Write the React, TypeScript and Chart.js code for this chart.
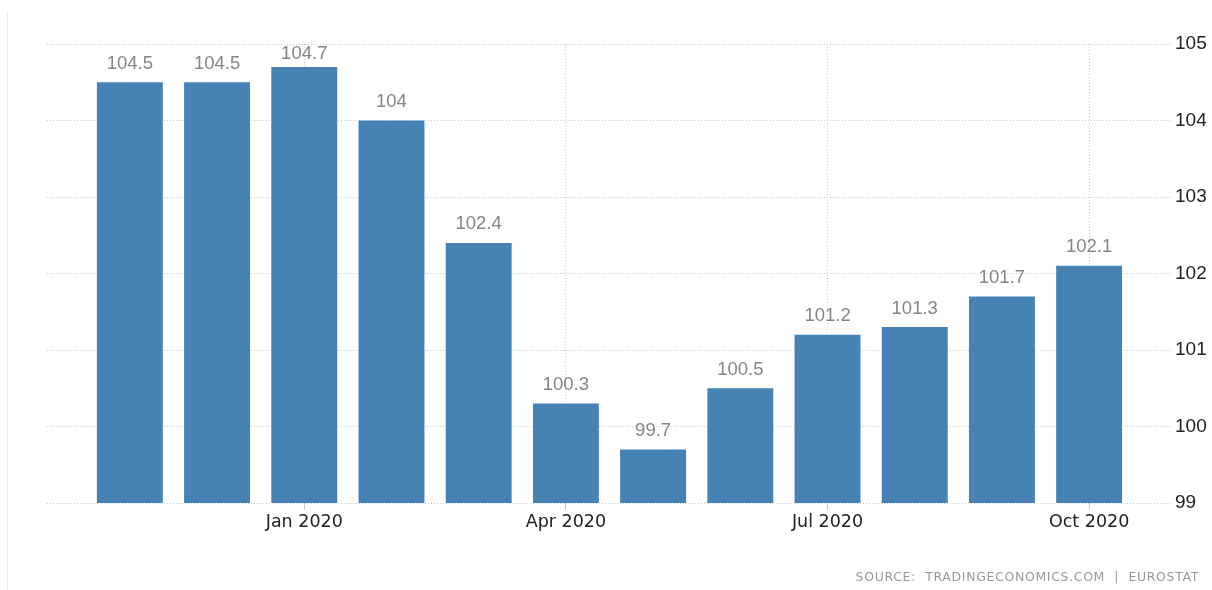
import React, { useEffect, useRef } from "react";
import { Chart, registerables } from "chart.js";

Chart.register(...registerables);

const categories = [
  "Nov 2019", "Dec 2019", "Jan 2020", "Feb 2020", "Mar 2020", "Apr 2020",
  "May 2020", "Jun 2020", "Jul 2020", "Aug 2020", "Sep 2020", "Oct 2020",
];
const values = [104.5, 104.5, 104.7, 104, 102.4, 100.3, 99.7, 100.5, 101.2, 101.3, 101.7, 102.1];
const labeledTickIndexes = [2, 5, 8, 11];
const yTicks = [99, 100, 101, 102, 103, 104, 105];
const sourceText = "SOURCE:  TRADINGECONOMICS.COM  |  EUROSTAT";

const W = 1212;
const H = 590;

const valueLabels = {
  id: "valueLabels",
  afterDatasetsDraw(chart: any) {
    const ctx = chart.ctx;
    const meta = chart.getDatasetMeta(0);
    const area = chart.chartArea;
    ctx.save();
    ctx.font = "18.5px 'Liberation Sans', Arial, sans-serif";
    ctx.fillStyle = "#858585";
    ctx.textAlign = "center";
    ctx.textBaseline = "alphabetic";
    meta.data.forEach((el: any, i: number) => {
      let base = el.y - 13.5;
      if (base - 13 < area.top + 1) base = area.top + 14.5;
      ctx.fillText(String(values[i]), el.x, base);
    });
    ctx.restore();
  },
};

export default function App() {
  const ref = useRef<HTMLCanvasElement>(null);
  useEffect(() => {
    if (!ref.current) return;
    const chart = new Chart(ref.current, {
      type: "bar",
      data: {
        datasets: [
          {
            data: values.map((v, i) => ({ x: i, y: v })),
            backgroundColor: "#4682B4",
            borderWidth: 0,
            categoryPercentage: 1,
            barPercentage: 0.756,
          } as any,
        ],
      },
      options: {
        animation: false,
        responsive: false,
        devicePixelRatio: 1,
        layout: { padding: { left: 47, top: 44, right: 0, bottom: 0 } },
        plugins: { legend: { display: false }, tooltip: { enabled: false } },
        scales: {
          x: {
            type: "linear",
            offset: false,
            min: -0.95,
            max: 11.95,
            afterBuildTicks: (scale: any) => {
              scale.ticks = labeledTickIndexes.map((v) => ({ value: v }));
            },
            afterFit: (scale: any) => {
              scale.height = H - 503;
            },
            ticks: {
              autoSkip: false,
              maxRotation: 0,
              padding: 2,
              color: "#222",
              font: { family: "'DejaVu Sans', sans-serif", size: 17.5 },
              callback: (v: any) => categories[v as number] ?? "",
            },
            grid: {
              offset: false,
              color: "#c8c8c8",
              drawTicks: true,
              tickLength: 7,
              tickColor: "#c8c8c8",
              tickBorderDash: [],
            },
            border: { display: false, dash: [1, 2] },
          } as any,
          y: {
            position: "right",
            min: 99,
            max: 105,
            afterBuildTicks: (scale: any) => {
              scale.ticks = yTicks.map((v) => ({ value: v }));
            },
            afterFit: (scale: any) => {
              scale.width = W - 1172;
            },
            ticks: {
              padding: 3,
              color: "#222",
              font: { family: "'Liberation Sans', Arial, sans-serif", size: 19 },
            },
            grid: { color: "#c8c8c8", drawTicks: false },
            border: { display: false, dash: [1, 2] },
          } as any,
        },
      },
      plugins: [valueLabels],
    });
    return () => chart.destroy();
  }, []);

  return (
    <div style={{ position: "absolute", left: 0, top: 0, width: W, height: H, background: "#fff" }}>
      <div style={{ position: "absolute", left: 7, top: 12, bottom: 0, width: 1, background: "#ececec" }} />
      <canvas ref={ref} width={W} height={H} style={{ position: "absolute", left: 0, top: 0, width: W, height: H }} />
      <div
        style={{
          position: "absolute",
          right: 13,
          top: 569,
          fontFamily: "'DejaVu Sans', sans-serif",
          fontSize: 12.5,
          letterSpacing: 0.65,
          color: "#999",
          whiteSpace: "pre",
        }}
      >
        {sourceText}
      </div>
    </div>
  );
}
